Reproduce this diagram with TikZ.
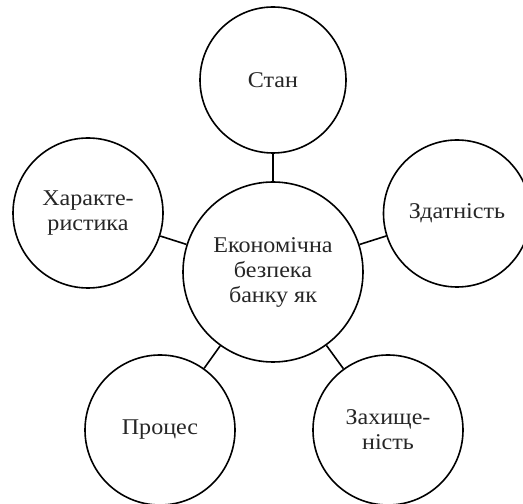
\documentclass[tikz,border=0pt]{standalone}
\usepackage{fontspec}
\setmainfont{Liberation Serif}
\newfontfamily\wideserif[FakeStretch=1.07]{Liberation Serif}
\begin{document}
\begin{tikzpicture}[x=1pt,y=1pt,
  circ/.style={circle,draw=black,line width=1.6pt,inner sep=0pt,align=center,text=black!85,font=\wideserif\fontsize{22.5}{25}\selectfont},
  link/.style={line width=1.6pt}]
\useasboundingbox (0,0) rectangle (523,504);
\node[circ,minimum size=180pt] (c) at (273,232) {Економічна\\безпека\\банку як};
\node[circ,minimum size=146pt] (stan) at (273,424) {Стан};
\node[circ,minimum size=150pt] (har) at (88,291) {Характе-\\ристика};
\node[circ,minimum size=147pt] (zd) at (457,290.5) {Здатність};
\node[circ,minimum size=150pt] (pr) at (160,74) {Процес};
\node[circ,minimum size=150pt] (za) at (388,74) {Захище-\\ність};
\draw[link] (c) -- (stan);
\draw[link] (c) -- (har);
\draw[link] (c) -- (zd);
\draw[link] (c) -- (pr);
\draw[link] (c) -- (za);
\end{tikzpicture}
\end{document}
